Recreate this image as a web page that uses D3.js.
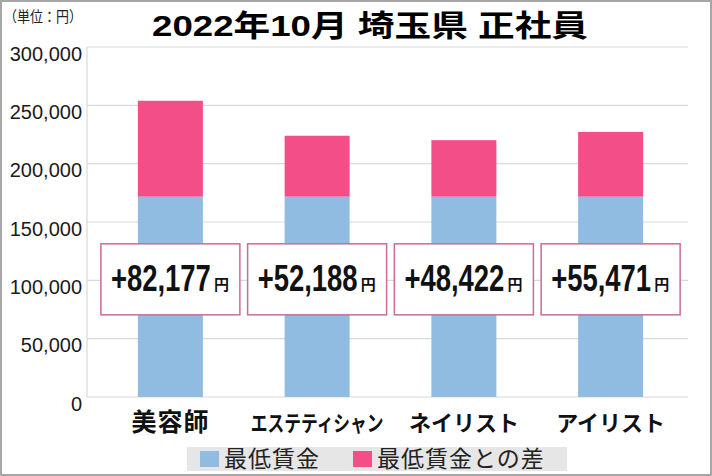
<!DOCTYPE html>
<html>
<head>
<meta charset="utf-8">
<script src="https://cdn.jsdelivr.net/npm/d3@7"></script>
<style>
  body { margin: 0; background: #fff; }
  svg text { font-family: "Liberation Sans", "Noto Sans CJK JP", sans-serif; }
</style>
</head>
<body>
<div id="chart"></div>
<script>
// data
var categories = ["美容師", "エステティシャン", "ネイリスト", "アイリスト"];
var minWage = [171738, 171738, 171738, 171738];
var diffs = [82177, 52188, 48422, 55471];
var yTicks = [0, 50000, 100000, 150000, 200000, 250000, 300000];
var seriesNames = ["最低賃金", "最低賃金との差"];
var seriesColors = ["#8fbce0", "#f34e88"];

var W = 712, H = 476,
    plot = { left: 87, right: 688, top: 47, bottom: 397 };

var svg = d3.select("#chart").append("svg")
    .attr("width", W)
    .attr("height", H);

// outer frame
svg.append("rect")
    .attr("x", 1).attr("y", 1)
    .attr("width", W - 2).attr("height", H - 2)
    .attr("fill", "#fff")
    .attr("stroke", "#a6a6a6")
    .attr("stroke-width", 2);

var y = d3.scaleLinear()
    .domain([0, 300000])
    .range([plot.bottom, plot.top]);

var x = d3.scaleBand()
    .domain(categories)
    .range([97, 684]);

var barW = 65;

// gridlines
svg.append("g").selectAll("line")
    .data(yTicks)
    .join("line")
    .attr("x1", plot.left).attr("x2", plot.right)
    .attr("y1", function(d) { return y(d); })
    .attr("y2", function(d) { return y(d); })
    .attr("stroke", "#d9d9d9")
    .attr("stroke-width", 1.2);

svg.append("line")
    .attr("x1", plot.left).attr("x2", plot.left)
    .attr("y1", plot.top).attr("y2", plot.bottom)
    .attr("stroke", "#d9d9d9")
    .attr("stroke-width", 1.2);

// y labels
var yAxis = d3.axisLeft(y)
    .tickValues(yTicks)
    .tickSize(0)
    .tickPadding(5)
    .tickFormat(d3.format(","));
var ya = svg.append("g")
    .attr("transform", "translate(" + plot.left + ",0)")
    .call(yAxis);
ya.select(".domain").remove();
ya.selectAll("text")
    .attr("font-size", 20)
    .attr("fill", "#1a1a1a")
    .attr("dy", "0.65em")
    .style("font-family", "'Liberation Sans', sans-serif");

// stacked bars
var stackData = categories.map(function(c, i) {
    return { cat: c, base: minWage[i], diff: diffs[i] };
});
var series = d3.stack().keys(["base", "diff"])(stackData);

svg.append("g").selectAll("g")
    .data(series)
    .join("g")
    .attr("fill", function(d, i) { return seriesColors[i]; })
    .selectAll("rect")
    .data(function(d) { return d; })
    .join("rect")
    .attr("x", function(d) { return x(d.data.cat) + x.bandwidth() / 2 - barW / 2; })
    .attr("width", barW)
    .attr("y", function(d) { return y(d[1]); })
    .attr("height", function(d) { return y(d[0]) - y(d[1]); });

// difference label boxes
var boxW = 139, boxH = 71, boxCy = y(100000) - 1;
var boxes = svg.append("g").selectAll("g")
    .data(stackData)
    .join("g")
    .attr("transform", function(d) {
        return "translate(" + (x(d.cat) + x.bandwidth() / 2) + "," + boxCy + ")";
    });

boxes.append("rect")
    .attr("x", -boxW / 2).attr("y", -boxH / 2)
    .attr("width", boxW).attr("height", boxH)
    .attr("fill", "#fff")
    .attr("stroke", "#c86c9c")
    .attr("stroke-width", 1.5);

var numW = 100, yenW = 17, numX = -(numW + yenW) / 2 - 1;
boxes.append("text")
    .attr("font-size", 37)
    .attr("font-weight", "bold")
    .attr("fill", "#111")
    .text(function(d) { return "+" + d3.format(",")(d.diff); })
    .each(function() {
        // squeeze the number sideways, like a condensed face
        var k = numW / this.getComputedTextLength();
        d3.select(this).attr("transform", "translate(" + numX + ",12) scale(" + k + ",1)");
    });

boxes.append("text")
    .attr("x", numX + numW + 3)
    .attr("y", 11)
    .attr("font-size", 15)
    .attr("font-weight", "bold")
    .attr("fill", "#111")
    .style("font-family", "'Noto Sans CJK JP', sans-serif")
    .text("円");

// category labels
svg.append("g").selectAll("text")
    .data(categories)
    .join("text")
    .attr("text-anchor", "middle")
    .attr("font-size", 22)
    .attr("font-weight", "bold")
    .attr("fill", "#111")
    .style("font-family", "'Noto Sans CJK JP', sans-serif")
    .text(function(d) { return d; })
    .each(function(d) {
        var t = d3.select(this), len = this.getComputedTextLength(), k = 1;
        if (len > 136) k = 133 / len;
        if (len < 75) t.attr("font-size", 25).attr("letter-spacing", 1);
        t.attr("transform", "translate(" + (x(d) + x.bandwidth() / 2) + ",431) scale(" + k + ",1)");
    });

// title
svg.append("text")
    .attr("x", 152)
    .attr("y", 36)
    .attr("font-size", 30)
    .attr("font-weight", "bold")
    .attr("fill", "#000")
    .attr("textLength", 436)
    .attr("lengthAdjust", "spacingAndGlyphs")
    .text("2022年10月 埼玉県 正社員");

// unit
svg.append("text")
    .attr("x", 4)
    .attr("y", 22)
    .attr("font-size", 15)
    .attr("fill", "#222")
    .attr("textLength", 78)
    .attr("lengthAdjust", "spacingAndGlyphs")
    .style("font-family", "'Noto Sans CJK JP', sans-serif")
    .text("（単位：円）");

// legend
var lg = svg.append("g");
lg.append("rect")
    .attr("x", 187).attr("y", 447)
    .attr("width", 380).attr("height", 24)
    .attr("fill", "#e6e6e6");

var legendX = [200, 353];
var items = lg.selectAll("g.item")
    .data(seriesNames)
    .join("g")
    .attr("class", "item")
    .attr("transform", function(d, i) { return "translate(" + legendX[i] + ",459)"; });
items.append("rect")
    .attr("x", 0).attr("y", -8)
    .attr("width", 19).attr("height", 16)
    .attr("fill", function(d, i) { return seriesColors[i]; });
items.append("text")
    .attr("x", 24)
    .attr("y", 8)
    .attr("font-size", 23)
    .attr("fill", "#222")
    .attr("letter-spacing", 1)
    .style("font-family", "'Noto Sans CJK JP', sans-serif")
    .text(function(d) { return d; });
</script>
</body>
</html>
